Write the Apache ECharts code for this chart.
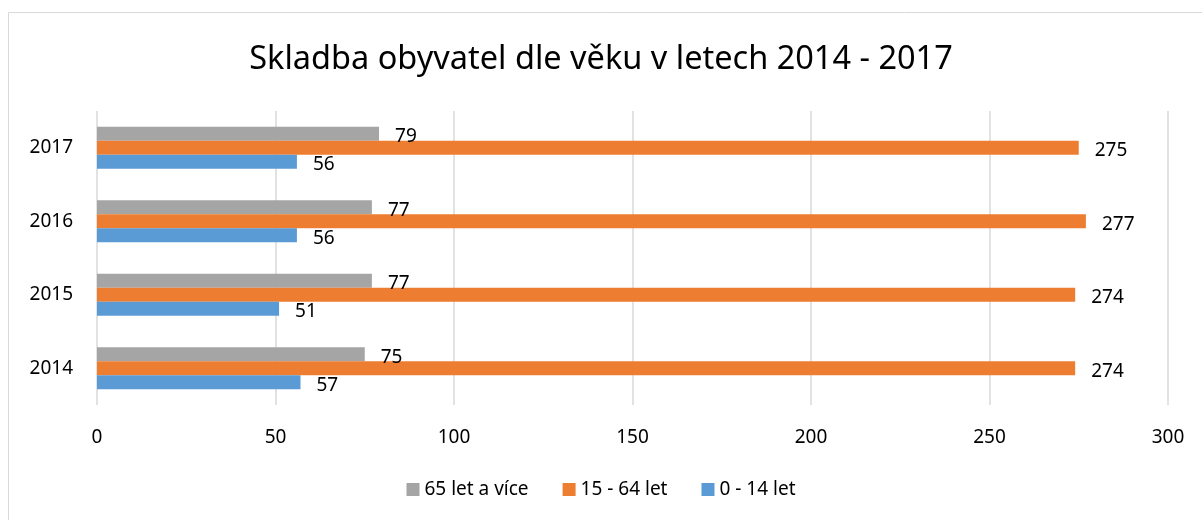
<!DOCTYPE html>
<html>
<head>
<meta charset="utf-8">
<script src="https://cdn.jsdelivr.net/npm/echarts@6/dist/echarts.min.js"></script>
<style>
	html, body { margin: 0; padding: 0; background: #fff; }
	#chart { width: 1202px; height: 520px; }
</style>
</head>
<body>
<div id="chart"></div>
<script>
var years = ['2014', '2015', '2016', '2017'];
var kids = [57, 51, 56, 56];
var adults = [274, 274, 277, 275];
var seniors = [75, 77, 77, 79];
var xTicks = [0, 50, 100, 150, 200, 250, 300];

var font = 'Noto Sans',
	textColor = '#000';

var myChart = echarts.init(document.getElementById('chart'), null, { renderer: 'canvas' });

function barSeries(name, values, color) {
	return {
		name: name,
		type: 'bar',
		data: values,
		barGap: '0%',
		barCategoryGap: '43%',
		itemStyle: { color: color },
		label: {
			show: true,
			position: 'right',
			distance: 16,
			offset: [0, 3],
			color: textColor,
			fontFamily: font,
			fontSize: 19
		}
	};
}

var option = {
	animation: false,
	title: {
		text: 'Skladba obyvatel dle věku v letech 2014 - 2017',
		left: 'center',
		top: 38,
		textStyle: {
			fontFamily: font,
			fontSize: 32.5,
			fontWeight: 'normal',
			color: textColor
		}
	},
	legend: {
		data: ['65 let a více', '15 - 64 let', '0 - 14 let'],
		bottom: 16,
		left: 'center',
		itemWidth: 13,
		itemHeight: 13,
		itemGap: 34,
		icon: 'rect',
		textStyle: { fontFamily: font, fontSize: 19, color: textColor }
	},
	grid: {
		left: 97,
		right: 34,
		top: 111,
		bottom: 115,
		containLabel: false
	},
	xAxis: {
		type: 'value',
		min: xTicks[0],
		max: xTicks[xTicks.length - 1],
		interval: 50,
		axisLine: { show: false },
		axisTick: { show: false },
		splitLine: { lineStyle: { color: '#d9d9d9', width: 1.5 } },
		axisLabel: { margin: 23, fontFamily: font, fontSize: 19, color: textColor }
	},
	yAxis: {
		type: 'category',
		data: years,
		axisLine: { show: false },
		axisTick: { show: false },
		axisLabel: { margin: 24, fontFamily: font, fontSize: 19, color: textColor }
	},
	graphic: [{
		type: 'rect',
		shape: { x: 8.5, y: 12.5, width: 1200, height: 520 },
		style: { fill: null, stroke: '#d9d9d9', lineWidth: 1 },
		silent: true
	}],
	series: [
		barSeries('65 let a více', seniors, '#a5a5a5'),
		barSeries('15 - 64 let', adults, '#ed7d31'),
		barSeries('0 - 14 let', kids, '#5b9bd5')
	]
};

myChart.setOption(option);
</script>
</body>
</html>
